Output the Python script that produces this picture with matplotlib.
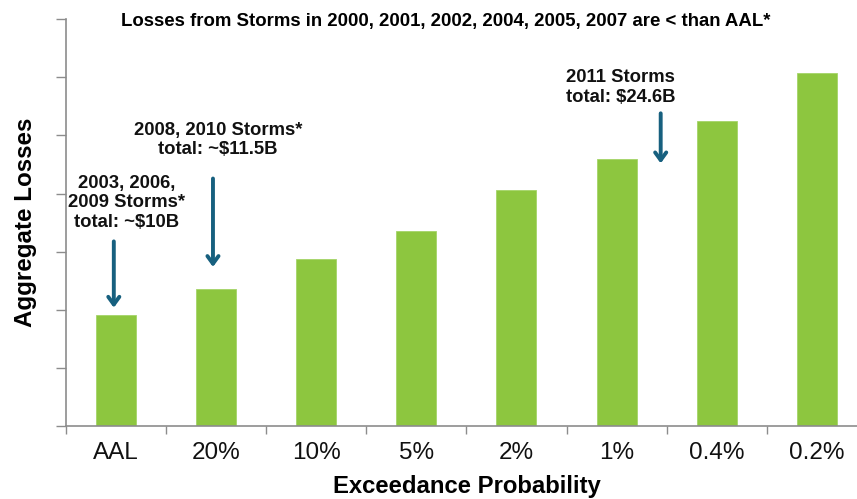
import numpy as np
import matplotlib
matplotlib.use("Agg")
import matplotlib.pyplot as plt

plt.rcParams['font.family'] = ['Liberation Sans', 'DejaVu Sans']

# exceedance levels and aggregate losses ($B)
categories = ['AAL', '20%', '10%', '5%', '2%', '1%', '0.4%', '0.2%']
losses = [9.6, 11.85, 14.4, 16.75, 20.3, 23.0, 26.25, 30.4]

title = 'Losses from Storms in 2000, 2001, 2002, 2004, 2005, 2007 are < than AAL*'
notes = [
    # text, text position (x, y), arrow tail (x, y), arrow tip (x, y)
    ('2003, 2006,\n2009 Storms*\ntotal: ~$10B', (0.11, 19.2), (-0.02, 15.9), (-0.02, 10.2)),
    ('2008, 2010 Storms*\ntotal: ~$11.5B', (1.02, 24.6), (0.97, 21.3), (0.97, 13.7)),
    ('2011 Storms\ntotal: $24.6B', (5.04, 29.1), (5.44, 26.9), (5.44, 22.6)),
]

green = '#8dc63f'
arrow_col = '#17607f'
axis_col = '#8c8c8c'

fig = plt.figure(figsize=(8.57, 4.99), dpi=100)
ax = fig.add_axes([0.0767, 0.1453, 0.935, 0.8166])

x = np.arange(len(categories))
ax.bar(x, losses, width=0.4, color=green, edgecolor='#a4d468', linewidth=0.6, zorder=2)

ax.set_xlim(-0.5, len(categories) - 0.5)
ax.set_ylim(0, 35)
ax.set_yticks(np.arange(0, 36, 5))
ax.set_yticklabels([])
ax.tick_params(axis='y', length=7, width=1, color=axis_col, direction='out')

# category boundaries get tick marks, centres get the labels
ax.set_xticks(np.arange(len(categories) + 1) - 0.5)
ax.set_xticklabels([])
ax.tick_params(axis='x', which='major', length=6, width=1, color=axis_col)
ax.set_xticks(x, minor=True)
ax.set_xticklabels(categories, minor=True, fontsize=17.5, color='#111111')
ax.tick_params(axis='x', which='minor', length=0, pad=11)

for side in ('top', 'right'):
    ax.spines[side].set_visible(False)
for side in ('left', 'bottom'):
    ax.spines[side].set_color(axis_col)
    ax.spines[side].set_linewidth(1.2)

ax.set_ylabel('Aggregate Losses', fontsize=17.4, fontweight='bold', labelpad=10)
fig.text(0.545, 0.026, 'Exceedance Probability', fontsize=17.2, fontweight='bold',
         ha='center', va='center')
fig.text(0.52, 0.957, title, fontsize=13.4, fontweight='bold', ha='center', va='center')

for txt, pos, tail, tip in notes:
    ax.text(pos[0], pos[1], txt, fontsize=13.3, fontweight='bold', ha='center',
            va='center', linespacing=1.2, color='#111111')
    ax.annotate('', xy=tip, xytext=tail,
                arrowprops=dict(arrowstyle='->,head_length=0.55,head_width=0.4',
                                color=arrow_col, lw=2.8, shrinkA=0, shrinkB=0))

fig.savefig('out.png', dpi=100)
